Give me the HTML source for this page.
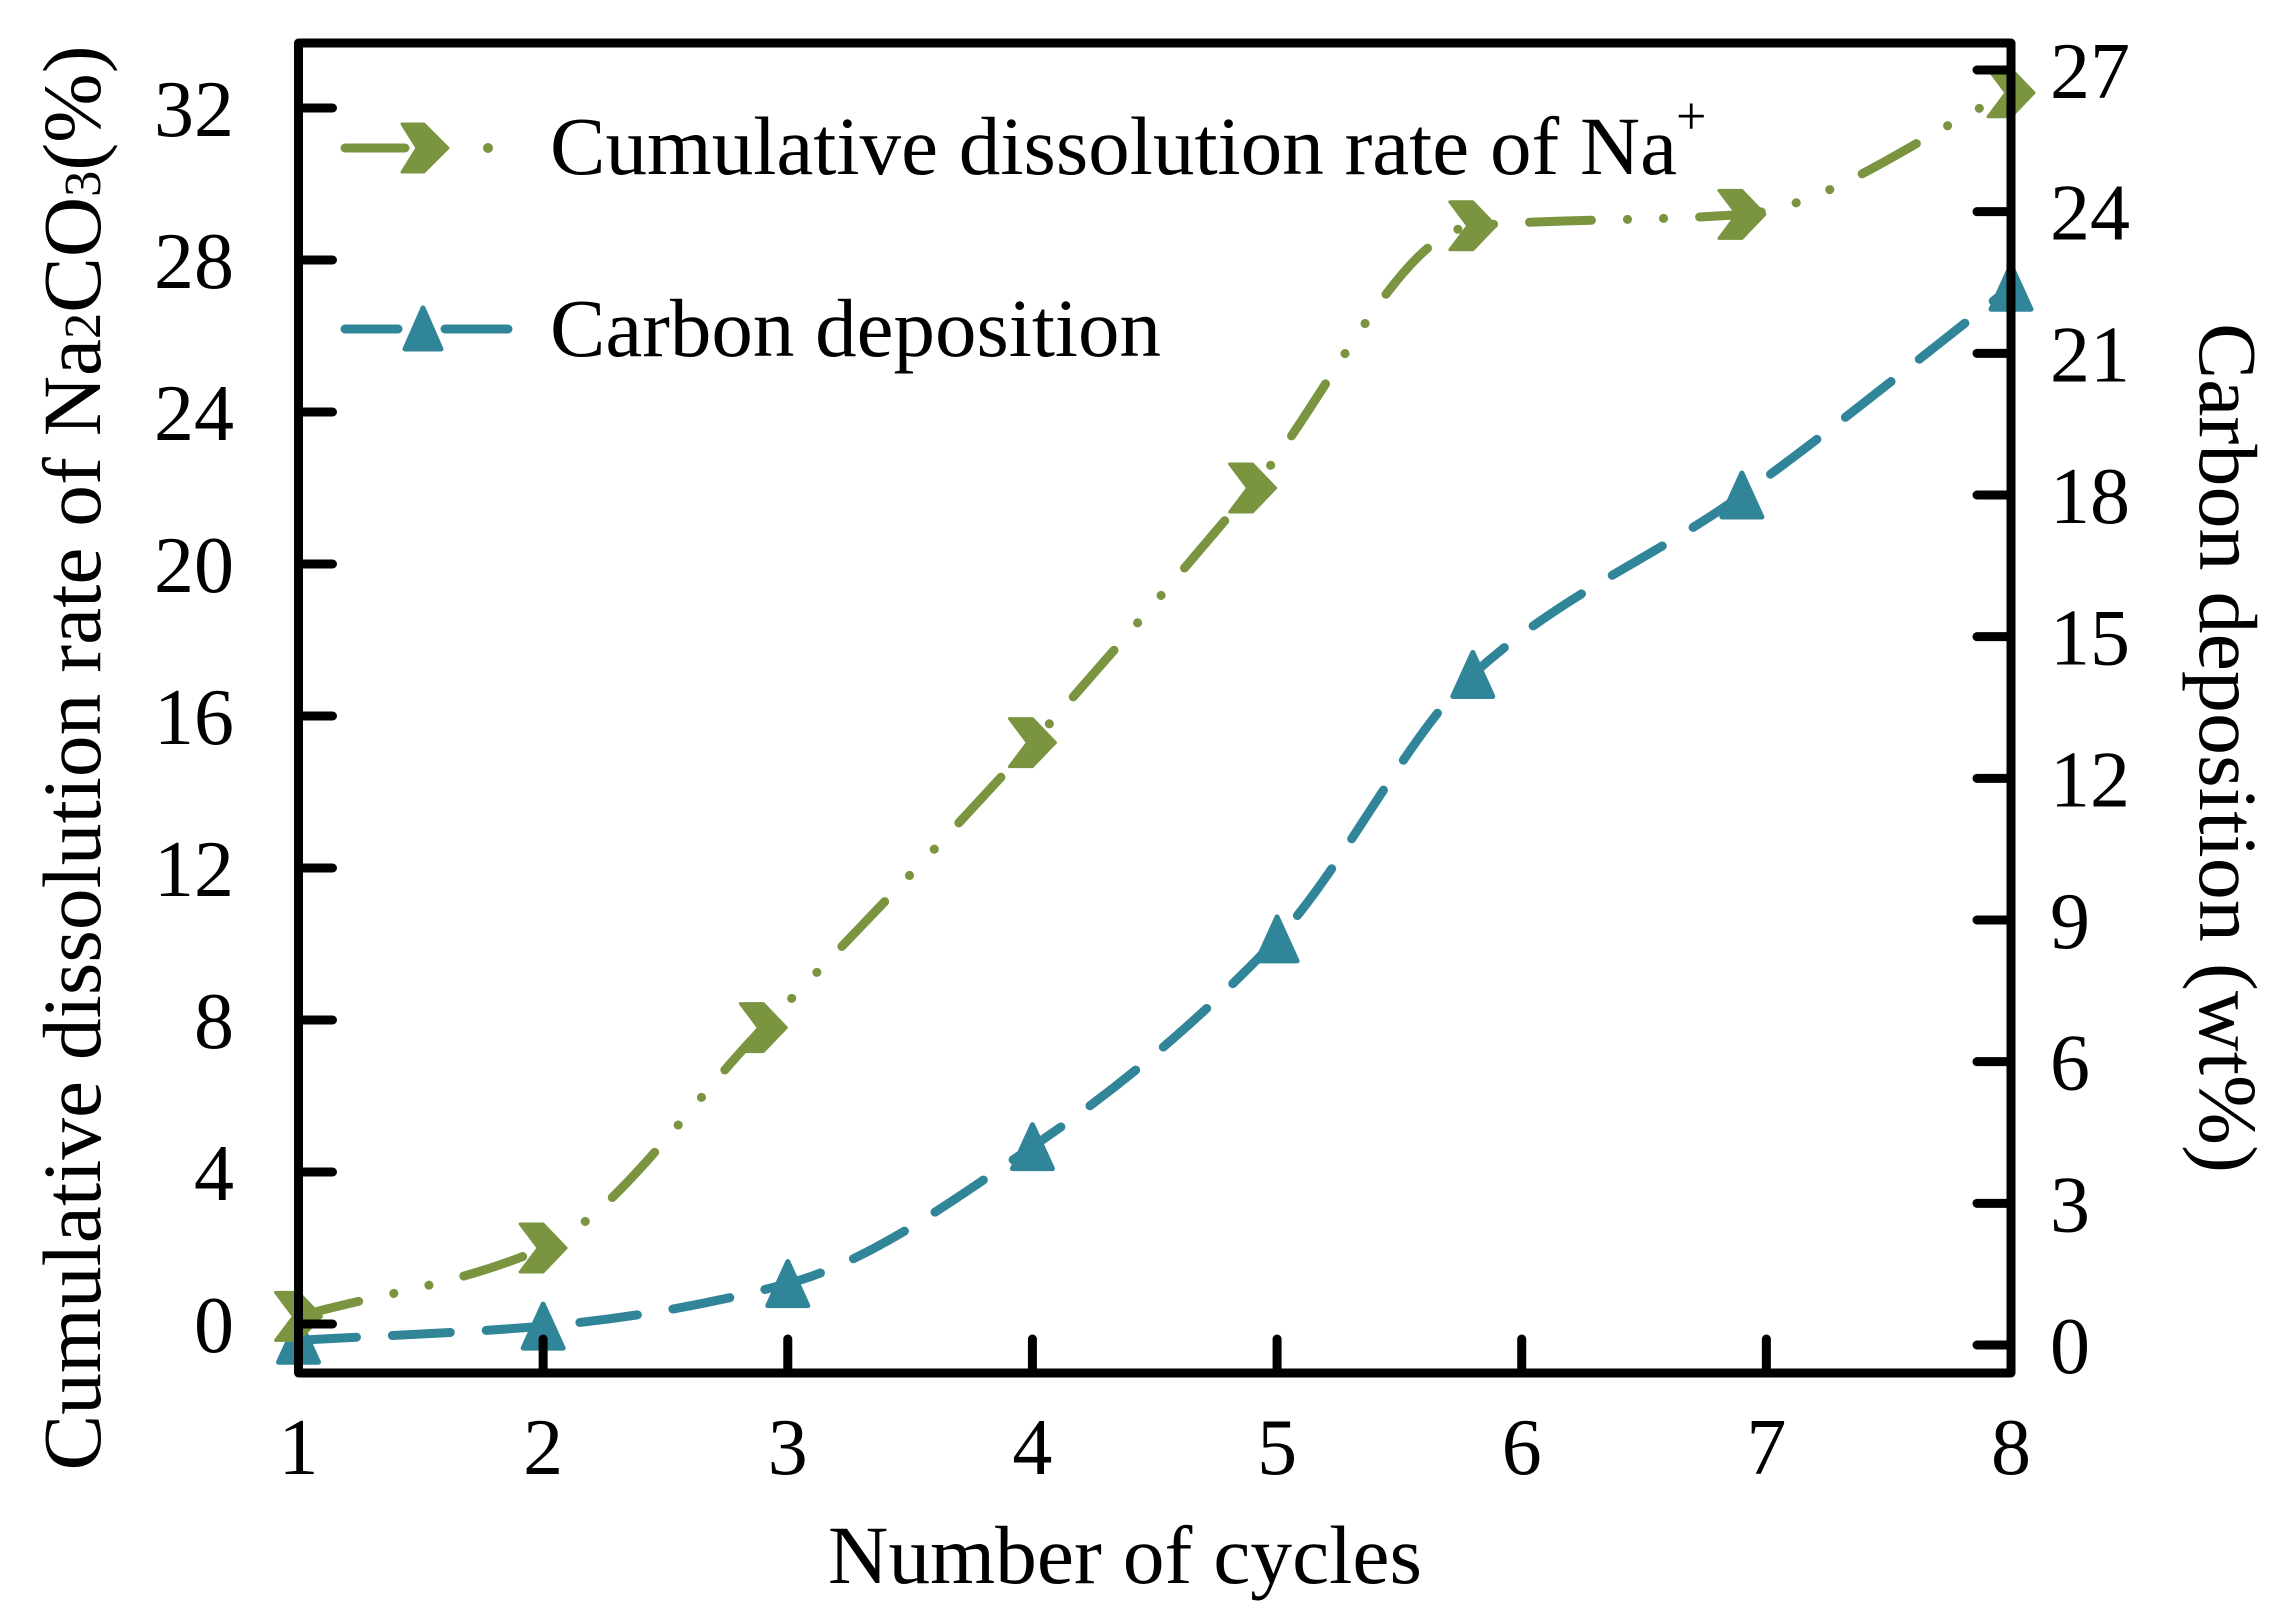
<!DOCTYPE html>
<html><head><meta charset="utf-8"><style>
html,body{margin:0;padding:0;background:#fff}
svg{display:block}
text{font-family:"Liberation Serif",serif;fill:#000}
</style></head><body>
<svg id="chart" width="2278" height="1611" viewBox="0 0 2278 1611" xmlns="http://www.w3.org/2000/svg">
<g id="series"></g>
<g id="axes"></g>
<g>
  <g>
    <line x1="345" y1="148" x2="405" y2="148" stroke="#7a9440" stroke-width="9" stroke-linecap="round"/>
    <path d="M402,124 L424,124 L448,148 L424,172 L402,172 L417,148 Z" fill="#7a9440" stroke="#7a9440" stroke-width="3" stroke-linejoin="round"/>
    <circle cx="488" cy="148" r="5" fill="#7a9440"/>
    <text x="550" y="174" font-size="83" textLength="1127" lengthAdjust="spacingAndGlyphs">Cumulative dissolution rate of Na</text>
    <text x="1676" y="134" font-size="54">+</text>
  </g>
  <g>
    <line x1="345" y1="329" x2="398" y2="329" stroke="#318599" stroke-width="9" stroke-linecap="round"/>
    <line x1="445" y1="329" x2="508" y2="329" stroke="#318599" stroke-width="9" stroke-linecap="round"/>
    <path d="M423,308 L441,349 L405,349 Z" fill="#318599" stroke="#318599" stroke-width="5" stroke-linejoin="round"/>
    <text x="550" y="356" font-size="83" textLength="611" lengthAdjust="spacingAndGlyphs">Carbon deposition</text>
  </g>
</g>
<text x="1125" y="1583" font-size="83" text-anchor="middle" textLength="594" lengthAdjust="spacingAndGlyphs">Number of cycles</text>
<text transform="translate(100,758) rotate(-90)" font-size="83" text-anchor="middle" textLength="1425" lengthAdjust="spacingAndGlyphs">Cumulative dissolution rate of Na<tspan font-size="52">2</tspan>CO<tspan font-size="52">3</tspan>(%)</text>
<text transform="translate(2200,748) rotate(90)" font-size="83" text-anchor="middle" textLength="850" lengthAdjust="spacingAndGlyphs">Carbon deposition (wt%)</text>
</svg>
<script>
const cycleTicks = [1,2,3,4,5,6,7,8];
const leftTicks = [0,4,8,12,16,20,24,28,32];
const rightTicks = [0,3,6,9,12,15,18,21,24,27];
const naX = [1,2,2.9,4,4.9,5.8,6.9,8];
const naValues = [0.2,2.0,7.8,15.3,22.0,28.9,29.2,32.4];
const carbonX = [1,2,3,4,5,5.8,6.9,8];
const carbonValues = [0.1,0.4,1.3,4.2,8.6,14.2,18.0,22.4];

const L=298.5,R=2011,T=43,B=1373;
const xs=v=>L+(v-1)*(R-L)/7;
const yl=v=>1324-v*38;
const yr=v=>1345-v*(1345-70)/27;
const NS='http://www.w3.org/2000/svg';
function mk(tag,attrs,parent){const e=document.createElementNS(NS,tag);for(const k in attrs)e.setAttribute(k,attrs[k]);parent.appendChild(e);return e;}
const axes=document.getElementById('axes');
const series=document.getElementById('series');

const frame=mk('rect',{x:L,y:T,width:R-L,height:B-T,fill:'none',stroke:'#000','stroke-width':9,'stroke-linejoin':'round'},axes);



cycleTicks.forEach(v=>{
  const x=xs(v);
  if(v>1&&v<8){const t=mk('line',{x1:x,y1:B,x2:x,y2:B-34,stroke:'#000','stroke-width':9,'stroke-linecap':'round'},axes);
  
  }
  const lb=mk('text',{x:x,y:1474,'font-size':80,'text-anchor':'middle'},axes);
  lb.textContent=v;
  
  
});
leftTicks.forEach(v=>{
  const y=yl(v);
  const t=mk('line',{x1:L,y1:y,x2:L+34,y2:y,stroke:'#000','stroke-width':9,'stroke-linecap':'round'},axes);
  
  
  const lb=mk('text',{x:234,y:y+28,'font-size':80,'text-anchor':'end'},axes);
  lb.textContent=v;
  
  
});
rightTicks.forEach(v=>{
  const y=yr(v);
  const t=mk('line',{x1:R,y1:y,x2:R-34,y2:y,stroke:'#000','stroke-width':9,'stroke-linecap':'round'},axes);
  
  
  const lb=mk('text',{x:2050,y:y+28,'font-size':80,'text-anchor':'start'},axes);
  lb.textContent=v;
  
  
});

// monotone cubic interpolation (no overshoot)
function smooth(pts){
  const n=pts.length,dx=[],sl=[],m=[];
  for(let i=0;i<n-1;i++){dx[i]=pts[i+1][0]-pts[i][0];sl[i]=(pts[i+1][1]-pts[i][1])/dx[i];}
  m[0]=sl[0];m[n-1]=sl[n-2];
  for(let i=1;i<n-1;i++){
    if(sl[i-1]*sl[i]<=0)m[i]=0;
    else{const w1=2*dx[i]+dx[i-1],w2=dx[i]+2*dx[i-1];m[i]=(w1+w2)/(w1/sl[i-1]+w2/sl[i]);}
  }
  let d='M'+pts[0][0]+','+pts[0][1];
  for(let i=0;i<n-1;i++){
    const h=dx[i]/3;
    d+=' C'+(pts[i][0]+h)+','+(pts[i][1]+m[i]*h)+' '+(pts[i+1][0]-h)+','+(pts[i+1][1]-m[i+1]*h)+' '+pts[i+1][0]+','+pts[i+1][1];
  }
  return d;
}
const naPts=naX.map((x,i)=>[xs(x),yl(naValues[i])]);
const cPts=carbonX.map((x,i)=>[xs(x),yr(carbonValues[i])]);

const cl=mk('path',{d:smooth(cPts),fill:'none',stroke:'#318599','stroke-width':9,'stroke-linecap':'round','stroke-dasharray':'58 36'},series);


const nl=mk('path',{d:smooth(naPts),fill:'none',stroke:'#7a9440','stroke-width':9,'stroke-linecap':'round','stroke-dasharray':'62 36 0.1 36 0.1 36'},series);



cPts.forEach(p=>{
  const m=mk('path',{d:`M${p[0]},${p[1]-22} L${p[0]+20},${p[1]+22} L${p[0]-20},${p[1]+22} Z`,fill:'#318599',stroke:'#318599','stroke-width':5,'stroke-linejoin':'round'},series);
  
  
});
naPts.forEach(p=>{
  const x=p[0],y=p[1];
  const m=mk('path',{d:`M${x-23},${y-24} L${x},${y-24} L${x+23},${y} L${x},${y+24} L${x-23},${y+24} L${x-5},${y} Z`,fill:'#7a9440',stroke:'#7a9440','stroke-width':3,'stroke-linejoin':'round'},series);
  
  
});
</script>
</body></html>
